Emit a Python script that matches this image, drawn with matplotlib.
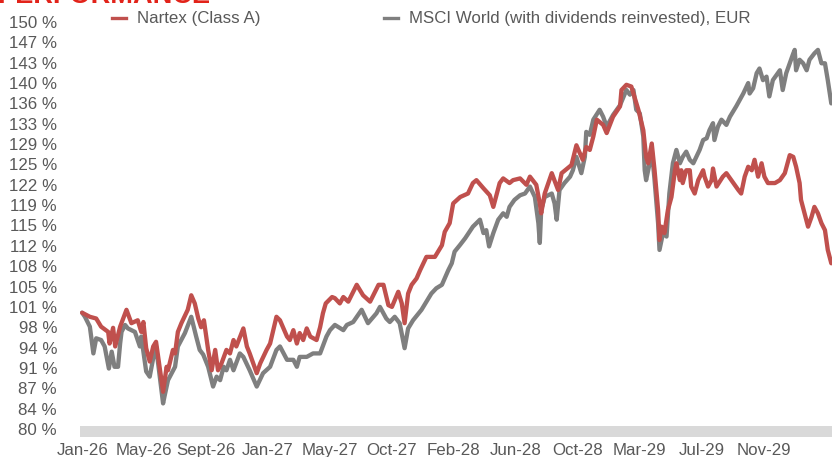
import matplotlib
matplotlib.use("Agg")
import matplotlib.pyplot as plt
from matplotlib.lines import Line2D
import numpy as np

plt.rcParams['font.family'] = ['Liberation Sans', 'DejaVu Sans']

# ---- data (trading-day index, value in %) ----
nartex_day = [0, 11, 20, 27, 37, 39, 44, 47, 54, 63, 70, 79, 84, 87, 91, 96, 101, 105, 110, 115,
              120, 122, 129, 132, 136, 141, 150, 155, 160, 165, 169, 173, 179, 184, 189, 193, 198,
              205, 210, 215, 219, 229, 234, 238, 248, 253, 262, 267, 276, 281, 291, 295, 300, 305,
              309, 314, 319, 324, 333, 338, 342, 346, 355, 359, 366, 371, 378, 390, 399, 409, 421,
              428, 435, 440, 449, 454, 458, 463, 468, 475, 480, 489, 501, 511, 515, 522, 527, 537,
              548, 555, 560, 570, 579, 584, 593, 598, 607, 612, 622, 631, 636, 645, 650, 652, 657,
              667, 676, 681, 695, 702, 711, 716, 721, 726, 731, 740, 745, 754, 764, 766, 773, 780,
              783, 790, 797, 801, 804, 809, 813, 818, 820, 823, 827, 832, 837, 842, 844, 849, 851,
              853, 858, 863, 865, 870, 875, 882, 884, 889, 894, 896, 901, 910, 915, 922, 932, 936,
              941, 946, 951, 955, 960, 965, 969, 974, 984, 991, 998, 1005, 1010, 1014, 1019, 1021,
              1026, 1031, 1036, 1040, 1045, 1050, 1055, 1059, 1064]
nartex_val = [100.0, 99.3, 99.0, 97.6, 96.7, 94.7, 97.4, 94.2, 97.6, 100.5, 98.2, 98.7, 96.7, 98.4,
              93.9, 91.6, 94.2, 95.0, 90.7, 86.4, 90.7, 90.1, 93.6, 93.0, 96.7, 98.2, 100.5, 103.0,
              101.6, 99.0, 97.5, 98.7, 93.6, 90.1, 93.6, 90.1, 91.3, 93.6, 93.0, 95.3, 94.2, 97.3,
              94.2, 93.0, 89.6, 91.3, 93.6, 94.7, 99.3, 98.7, 95.9, 95.3, 97.0, 94.7, 96.5, 95.3,
              97.3, 95.9, 95.3, 97.5, 99.9, 101.6, 102.7, 102.5, 101.6, 102.7, 101.9, 104.8, 103.0,
              101.9, 104.8, 104.8, 101.3, 101.0, 103.6, 101.6, 98.2, 103.3, 104.8, 105.9, 107.3,
              109.6, 109.6, 111.6, 113.9, 115.4, 118.8, 119.9, 120.5, 122.3, 122.8, 121.4, 120.2,
              118.2, 122.3, 123.1, 122.3, 122.8, 123.1, 122.0, 123.4, 122.0, 118.8, 117.1, 120.5,
              124.0, 121.1, 124.0, 125.4, 128.8, 126.3, 128.5, 128.0, 130.3, 133.2, 132.3, 130.9,
              133.7, 135.5, 138.3, 139.2, 138.9, 137.7, 134.9, 131.4, 126.8, 125.7, 129.1, 124.5,
              117.7, 112.5, 114.8, 113.7, 117.7, 119.9, 124.5, 125.7, 122.8, 124.5, 122.3, 124.5,
              124.5, 121.7, 120.5, 122.8, 124.5, 123.4, 121.7, 122.8, 124.8, 121.7, 123.4, 124.0,
              122.8, 121.1, 120.5, 123.4, 125.1, 124.5, 126.3, 123.4, 125.7, 123.4, 122.3, 122.3,
              122.8, 124.0, 127.1, 126.8, 125.1, 122.3, 119.4, 117.1, 114.8, 116.5, 118.2, 117.1,
              115.4, 114.2, 110.8, 108.5]

msci_day = [0, 4, 11, 16, 20, 27, 32, 38, 42, 46, 51, 54, 56, 61, 65, 75, 82, 84, 91, 96, 101, 105,
            110, 115, 117, 122, 132, 136, 146, 155, 162, 167, 172, 179, 186, 191, 196, 201, 205,
            210, 215, 224, 229, 238, 248, 257, 267, 276, 281, 291, 300, 305, 309, 319, 328, 338,
            347, 352, 359, 371, 376, 385, 397, 406, 418, 423, 432, 437, 444, 451, 458, 463, 470,
            482, 489, 496, 503, 511, 515, 520, 525, 529, 537, 544, 555, 565, 570, 574, 578, 584,
            591, 598, 603, 607, 614, 622, 629, 636, 643, 648, 650, 652, 657, 667, 671, 674, 678,
            685, 693, 697, 702, 709, 714, 716, 721, 726, 735, 740, 745, 754, 764, 773, 778, 783,
            787, 792, 797, 799, 801, 806, 809, 813, 818, 820, 825, 830, 834, 839, 844, 849, 853,
            858, 863, 868, 877, 882, 887, 891, 896, 898, 903, 908, 915, 920, 929, 939, 946, 948,
            953, 958, 962, 967, 972, 976, 981, 991, 995, 1000, 1010, 1012, 1014, 1019, 1024, 1029,
            1033, 1040, 1045, 1050, 1055, 1059, 1064]
msci_val = [100.0, 99.3, 97.6, 93.0, 95.6, 95.3, 94.2, 90.4, 93.3, 90.7, 90.7, 94.7, 96.7, 97.9,
            97.3, 96.7, 94.2, 95.9, 89.9, 89.0, 92.2, 94.2, 89.3, 84.4, 85.6, 88.4, 90.7, 94.2, 96.5,
            99.3, 95.9, 93.6, 92.8, 90.7, 87.3, 89.0, 88.4, 90.7, 90.1, 91.9, 90.1, 93.0, 92.4,
            90.1, 87.3, 89.6, 90.7, 93.6, 94.2, 91.9, 91.9, 90.7, 92.4, 92.4, 93.0, 93.0, 95.9,
            97.0, 97.9, 97.0, 97.9, 98.4, 100.5, 98.2, 99.9, 101.0, 99.0, 98.4, 99.3, 98.2, 93.9,
            97.3, 98.7, 100.5, 101.9, 103.3, 104.2, 104.8, 105.9, 107.3, 108.5, 110.5, 111.7, 112.8,
            114.8, 116.0, 113.7, 114.2, 111.4, 113.7, 116.0, 117.1, 116.5, 118.2, 119.4, 120.2,
            120.5, 121.7, 119.9, 115.4, 112.0, 117.7, 119.9, 120.5, 118.8, 116.0, 121.1, 122.3,
            123.4, 124.5, 126.8, 124.0, 126.8, 131.1, 130.6, 133.2, 134.9, 133.7, 132.0, 134.0,
            135.7, 138.3, 137.5, 138.3, 134.9, 134.3, 130.3, 124.5, 122.8, 125.7, 128.0, 122.8,
            115.4, 110.8, 113.7, 113.1, 120.5, 125.7, 128.0, 125.7, 126.8, 127.7, 126.3, 125.7,
            128.0, 129.7, 130.0, 131.4, 132.6, 129.7, 132.0, 133.2, 132.3, 133.7, 135.5, 137.7,
            139.5, 137.7, 138.6, 141.2, 142.0, 140.0, 140.6, 137.2, 140.0, 141.7, 138.3, 141.2,
            144.6, 145.2, 141.7, 143.5, 142.9, 141.7, 143.5, 144.6, 145.2, 142.9, 142.9, 140.0,
            136.0]

x_tick_labels = ['Jan-26', 'May-26', 'Sept-26', 'Jan-27', 'May-27', 'Oct-27', 'Feb-28',
                 'Jun-28', 'Oct-28', 'Mar-29', 'Jul-29', 'Nov-29']
y_tick_labels = ['80 %', '84 %', '87 %', '91 %', '94 %', '98 %', '101 %', '105 %', '108 %',
                 '112 %', '115 %', '119 %', '122 %', '125 %', '129 %', '133 %', '136 %',
                 '140 %', '143 %', '147 %', '150 %']
series_names = ['Nartex (Class A)', 'MSCI World (with dividends reinvested), EUR']

# ---- style ----
RED = '#C0504D'
GRAY = '#7F7F7F'
TXT = '#595959'
W, H = 832, 457

fig = plt.figure(figsize=(W / 100, H / 100), dpi=100)
ax_top_px, ax_bot_px = 10, 437
ax = fig.add_axes([80 / W, 1 - ax_bot_px / H, 752 / W, (ax_bot_px - ax_top_px) / H])

px_per_unit = 407 / 70.0
ax.set_ylim(80 - (ax_bot_px - 429) / px_per_unit, 150 + (22 - ax_top_px) / px_per_unit)
ax.set_xlim(-3, 1065)

# thick light-gray baseline band
ax.axhspan(80 - (437 - 429) / px_per_unit, 80 + (429 - 426) / px_per_unit,
           color='#D9D9D9', lw=0, zorder=1)

ax.plot(msci_day, msci_val, color=GRAY, lw=3.1, solid_joinstyle='round',
        solid_capstyle='round', zorder=2)
ax.plot(nartex_day, nartex_val, color=RED, lw=3.1, solid_joinstyle='round',
        solid_capstyle='round', zorder=3)

ax.set_yticks(80 + 3.5 * np.arange(len(y_tick_labels)))
ax.set_yticklabels(y_tick_labels)
ax.set_xticks(88 * np.arange(len(x_tick_labels)))
ax.set_xticklabels(x_tick_labels)
ax.tick_params(axis='y', length=0, pad=16.5, labelsize=12.2, labelcolor=TXT)
ax.tick_params(axis='x', length=0, pad=4.0, labelsize=12.2, labelcolor=TXT)
for s in ax.spines.values():
    s.set_visible(False)

handles = [Line2D([], [], color=RED, lw=2.4), Line2D([], [], color=GRAY, lw=2.4)]
leg = fig.legend(handles, series_names, loc='center left',
                 bbox_to_anchor=(112 / W, 1 - 19 / H), bbox_transform=fig.transFigure,
                 ncol=2, frameon=False, fontsize=12.2, handlelength=0.82,
                 handletextpad=0.65, columnspacing=7.3, borderpad=0, borderaxespad=0)
for t in leg.get_texts():
    t.set_color(TXT)

fig.text(-3 / W, 1 - 3 / H, 'PERFORMANCE', color='#E2231A', fontsize=19.5,
         fontweight='bold', ha='left', va='baseline')

fig.savefig('out.png', dpi=100)
